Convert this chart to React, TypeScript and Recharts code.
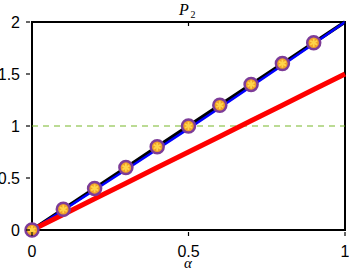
import { LineChart, Line, XAxis, YAxis, ReferenceArea, ReferenceLine } from "recharts";

const alphas = [0, 0.1, 0.2, 0.3, 0.4, 0.5, 0.6, 0.7, 0.8, 0.9, 1];
const blackVals = [0, 0.2, 0.4, 0.6, 0.8, 1.0, 1.2, 1.4, 1.6, 1.8, 2.0];
const blueVals = [0, 0.191, 0.384, 0.579, 0.776, 0.975, 1.176, 1.379, 1.584, 1.791, 2.0];
const redVals = [0, 0.15, 0.3, 0.45, 0.6, 0.75, 0.9, 1.05, 1.2, 1.35, 1.5];
const markerVals = [0, 0.2, 0.4, 0.6, 0.8, 1.0, 1.2, 1.4, 1.6, 1.8, null];
const xTicks = [0, 0.5, 1];
const yTicks = [0, 0.5, 1, 1.5, 2];
const yTickLabels = ["0", "0.5", "1", "1.5", "2"];

const data = alphas.map((a, i) => ({
  a,
  black: blackVals[i],
  blue: blueVals[i],
  red: redVals[i],
  marker: markerVals[i],
}));

const FONT = "'Liberation Sans', Arial, sans-serif";
const SERIF = "'Liberation Serif', 'DejaVu Serif', serif";
const TICK_LEN = 4;
const PLOT_TOP = 22;

const BottomTick = ({ x, y, payload }: any) => (
  <g>
    <line x1={x} y1={y} x2={x} y2={y - TICK_LEN} stroke="#000" strokeWidth={1.2} />
    <text x={x} y={y + 21} textAnchor="middle" fontSize={16} fontFamily={FONT} fill="#000">
      {payload.value}
    </text>
  </g>
);

// top frame ticks point inward from the plot's top edge
const TopTick = ({ x }: any) => (
  <line x1={x} y1={PLOT_TOP} x2={x} y2={PLOT_TOP + TICK_LEN} stroke="#000" strokeWidth={1.2} />
);

const LeftTick = ({ x, y, payload, index }: any) => (
  <g>
    <line x1={x} y1={y} x2={x + TICK_LEN} y2={y} stroke="#000" strokeWidth={1.2} />
    <text x={x - 6} y={y + 6} textAnchor="end" fontSize={16} fontFamily={FONT} fill="#000">
      {yTickLabels[index] ?? payload.value}
    </text>
  </g>
);

const RightTick = ({ x, y }: any) => (
  <line x1={x} y1={y} x2={x - TICK_LEN} y2={y} stroke="#000" strokeWidth={1.2} />
);

const StarDot = ({ cx, cy, value }: any) => {
  if (value == null || cx == null || cy == null) return <g />;
  const r = 4;
  const arms = [0, 60, 120].map((deg) => {
    const rad = (deg * Math.PI) / 180 + Math.PI / 2;
    return (
      <line
        key={deg}
        x1={cx - r * Math.cos(rad)}
        y1={cy - r * Math.sin(rad)}
        x2={cx + r * Math.cos(rad)}
        y2={cy + r * Math.sin(rad)}
        stroke="#ffd54a"
        strokeWidth={1.8}
      />
    );
  });
  return (
    <g>
      <circle cx={cx} cy={cy} r={6.5} fill="#f0a028" stroke="#7d3c98" strokeWidth={2.5} />
      {arms}
    </g>
  );
};

export default function App() {
  return (
    <div style={{ position: "absolute", left: 0, top: 0, width: 349, height: 274, background: "#fff" }}>
      <LineChart width={349} height={274} data={data} margin={{ top: 0, right: 4, left: 0, bottom: 0 }}>
        <XAxis
          xAxisId="b"
          dataKey="a"
          type="number"
          domain={[0, 1]}
          ticks={xTicks}
          axisLine={false}
          tickLine={false}
          tick={<BottomTick />}
          height={44}
          interval={0}
          tickMargin={0}
        />
        <XAxis
          xAxisId="t"
          orientation="top"
          dataKey="a"
          type="number"
          domain={[0, 1]}
          ticks={xTicks}
          axisLine={false}
          tickLine={false}
          tick={<TopTick />}
          height={PLOT_TOP}
          interval={0}
          tickMargin={0}
        />
        <YAxis
          yAxisId="l"
          type="number"
          domain={[0, 2]}
          ticks={yTicks}
          axisLine={false}
          tickLine={false}
          tick={<LeftTick />}
          width={32}
          interval={0}
          tickMargin={0}
        />
        <YAxis
          yAxisId="r"
          orientation="right"
          type="number"
          domain={[0, 2]}
          ticks={yTicks}
          axisLine={false}
          tickLine={false}
          tick={<RightTick />}
          width={0}
          interval={0}
          tickMargin={0}
        />
        <ReferenceLine
          xAxisId="b"
          yAxisId="l"
          y={1}
          stroke="#78b82a"
          strokeWidth={1.2}
          strokeDasharray="6 5"
        />
        <Line xAxisId="b" yAxisId="l" dataKey="black" stroke="#000" strokeWidth={3.5} dot={false} isAnimationActive={false} />
        <Line xAxisId="b" yAxisId="l" dataKey="blue" stroke="#0000ff" strokeWidth={2.5} dot={false} isAnimationActive={false} />
        <Line xAxisId="b" yAxisId="l" dataKey="red" stroke="#ff0000" strokeWidth={5} dot={false} isAnimationActive={false} />
        <ReferenceArea
          xAxisId="b"
          yAxisId="l"
          x1={0}
          x2={1}
          y1={0}
          y2={2}
          fill="none"
          fillOpacity={0}
          stroke="#000"
          strokeWidth={2}
          ifOverflow="visible"
        />
        <Line
          xAxisId="b"
          yAxisId="l"
          dataKey="marker"
          stroke="none"
          dot={<StarDot />}
          activeDot={false}
          isAnimationActive={false}
          connectNulls={false}
        />
        <text x={184} y={15} textAnchor="middle" fontFamily={SERIF} fontStyle="italic" fontSize={16} fill="#000">
          P
        </text>
        <text x={193} y={18} textAnchor="middle" fontFamily={SERIF} fontSize={10} fill="#000">
          2
        </text>
        <text x={188} y={268} textAnchor="middle" fontFamily={SERIF} fontStyle="italic" fontSize={15} fill="#000">
          α
        </text>
      </LineChart>
    </div>
  );
}
